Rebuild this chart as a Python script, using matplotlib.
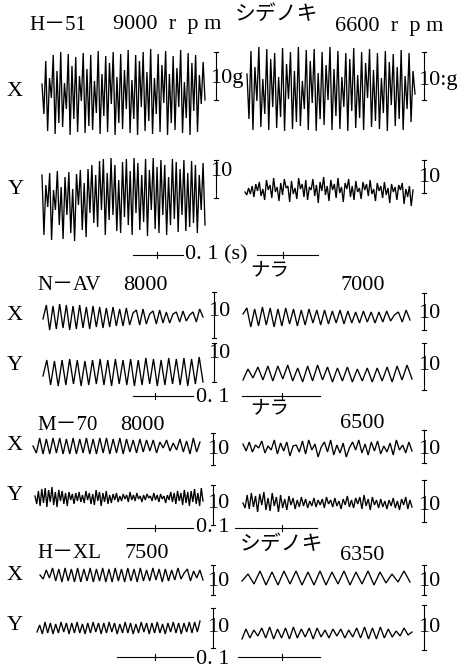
import matplotlib
matplotlib.use("Agg")
import matplotlib.pyplot as plt
import numpy as np

# wave amplitudes (pixels, + = up)
h51_x_left = [8,-22,31,-39,14,-6,37,-42,21,-31,40,-35,9,-17,38,-43,26,-27,35,-40,16,-9,39,-41,23,-34,37,-38,11,-21,41,-42,18,-24,36,-40,29,-12,40,-43,15,-31,38,-37,22,-17,42,-41,12,-27,37,-43,31,-15,40,-39,20,-29,43,-42,14,-22,38,-40,27,-11,41,-43,18,-31,36,-38,24,-15,42,-41,10,-26,39,-43,29,-19,37,-40,17,-12,30,-8]
h51_x_right = [15,-30,38,-41,22,-12,42,-38,10,-25,40,-41,30,-18,36,-39,12,-28,41,-42,25,-10,37,-40,18,-33,42,-37,8,-20,39,-41,28,-14,40,-42,16,-30,37,-36,24,-11,42,-41,20,-27,38,-40,12,-18,36,-42,30,-22,41,-39,14,-29,37,-41,26,-9,40,-38,19,-32,36,-40,11,-24,38,-42,27,-16,35,-37,22,-30,39,-41,13,-20,36,-33,18,-5]
h51_y_left = [20,-40,10,-12,22,-45,5,-15,24,-30,8,-44,18,-20,23,-38,6,-46,21,-10,25,-35,12,-42,26,-18,30,-28,20,-32,34,-15,36,-40,22,-25,37,-20,30,-36,15,-38,33,-22,36,-30,24,-40,37,-18,32,-35,20,-27,36,-41,25,-15,37,-34,28,-38,35,-20,30,-40,18,-30,36,-24,33,-37,26,-20,35,-36,22,-32,34,-28,30,-38,20,-15,32,-30]
h51_y_right = [0,-3,4,-2,6,-5,8,1,10,-4,3,-8,12,2,7,-6,14,0,5,-9,9,-3,13,4,6,-10,11,-2,4,-7,14,3,8,-5,12,-8,5,2,13,-4,7,-11,10,1,15,-3,6,-9,12,2,8,-6,14,-1,5,-10,9,3,13,-5,6,-8,11,0,4,-7,10,2,8,-4,12,-2,3,-9,9,1,6,-6,10,-3,4,-11,8,0,5,-8,7,2,9,-12,3,-5,6,-14,2]

nav_x_left = [-2,12,-13,11,-12,13,-11,12,-13,11,-12,12,-11,10,-12,11,-10,10,-11,9,-10,10,-9,8,-9,9,-8,4,7,-8,8,-7,3,6,-7,7,-6,5,-6,3,5,-5,6,-4,2,5,-5,8,0]
nav_x_right = [3,9,-10,8,-9,10,-8,9,-10,8,-9,9,-7,8,-9,7,-8,8,-6,7,-8,7,-7,6,-6,7,-7,6,-6,5,-6,6,-5,5,-6,5,-5,6,-4,2,5,-5,7,-3]
nav_y_left = [-4,12,-13,11,-14,12,-13,13,-12,12,-14,11,-13,12,-12,13,-13,12,-14,13,-12,12,-13,13,-14,12,-13,14,-12,13,-14,12,-13,14,-12,13,-13,14,-14,13,-12,15,-10]
nav_y_right = [-6,5,-4,7,-6,8,-7,8,-5,9,-7,6,-8,8,-7,9,-6,7,-8,6,-7,7,-8,5,-7,6,-8,6,-7,7,-8,8,-6,9,-5]

m70_x_left = [0,-7,8,-8,7,-8,8,-7,8,-8,7,-8,8,-8,7,-7,8,-8,7,-8,8,-7,8,-8,7,-7,8,-8,7,-6,6,-7,7,-6,6,-5,6,-7,4,-2,6,-5,3,-4,7,-6,5,-8,8,-6,4]
m70_x_right = [4,-3,6,-4,3,0,7,-5,2,-2,8,-6,5,-3,6,-8,2,3,-4,7,-6,8,-2,4,-9,1,6,-4,8,-7,3,-5,5,-9,0,6,-2,8,-5,4,-7,6,-3,7,-6,2,-4,5,-7,8,-2,3,-5,6,-3]
m70_y_left = [2,-6,7,-8,9,-5,10,-9,8,-4,11,-7,6,-9,8,-3,7,-6,5,-8,6,-2,4,-6,5,-3,6,-4,3,-5,7,-2,5,-6,4,-7,8,-3,6,-8,5,-4,7,-6,3,-5,4,-2,5,-4,2,-3,4,-1,3,-4,6,-2,3,-3,5,-1,2,-4,3,-2,4,0,2,-3,5,-2,3,-4,4,-1,2,-5,3,-2,6,-4,5,-6,7,-3,5,-7,8,-5,6,-8,7,-4,9,-6,5,-8,10,-3]
m70_y_right = [0,-5,8,-6,10,-4,7,-9,9,-2,11,-7,5,-8,10,-3,6,-9,8,-5,4,-7,7,-2,5,-6,3,-4,6,-3,4,-5,2,-3,5,-4,3,-2,4,-5,6,-1,3,-4,5,-3,2,-6,4,-2,7,-4,3,-5,5,-1,6,-6,8,-3,4,-7,6,-2,3,-5,4,-4,2,-6,3,-3,5,-5,2,-7,4,-2,6,-6,3,-4]

hxl_x_left = [0,-4,5,-3,7,-6,6,-7,7,-6,6,-7,7,-7,6,-6,7,-7,6,-6,7,-7,6,-7,7,-6,6,-7,7,-6,6,-7,7,-6,5,-6,7,-5,6,-7,6,-6,5,-5,7,-4,2,6,-6,4,-3,5,-5]
hxl_x_right = [-3,4,-6,7,-7,6,-7,7,-6,7,-7,6,-7,7,-7,6,-6,7,-7,6,-6,7,-7,6,-5,4,-4,7,-4]
hxl_y_left = [-4,3,-6,6,-5,5,-6,4,-5,6,-4,5,-6,5,-5,6,-5,4,-6,5,-5,6,-4,5,-6,5,-5,6,-4,5,-6,4,-5,6,-5,5,-6,4,-5,6,-4,5,-6,5,-5,6,-5,4,-6,5,-4,6,-5,5,-6,5,-4,6,-5,6,-4,7]
hxl_y_right = [-6,4,-5,3,-3,5,-5,6,-6,4,-5,5,-6,6,-5,4,-4,5,-6,5,-4,3,-5,4,-3,4,-5,3,-4,5,-5,6,-6,5,-6,6,-5,4,-4,2,-3,5,-2,1]

LAT = ['Liberation Serif', 'Noto Sans CJK JP']
JP = ['Noto Sans CJK JP', 'Liberation Serif']

fig = plt.figure(figsize=(4.57, 6.68), dpi=100)
ax = fig.add_axes([0, 0, 1, 1])
ax.set_xlim(0, 457)
ax.set_ylim(668, 0)
ax.axis('off')


def trace(vals, x0, x1, cy, lw=0.95):
    xs = np.linspace(x0, x1, len(vals))
    ax.plot(xs, cy - np.array(vals), color='black', lw=lw, solid_joinstyle='miter')


def scale(x, y0, y1, ty, label='10'):
    ax.plot([x, x], [y0, y1], color='black', lw=0.8)
    ax.plot([x - 2, x + 2], [y0, y0], color='black', lw=0.8)
    ax.plot([x - 2, x + 2], [y1, y1], color='black', lw=0.8)
    ax.text(x - 6, ty, label, family=LAT, fontsize=16, va='center', ha='left')


def timebar(xa, xb, ta, xc, xd, tb, y):
    for (p, q, t) in [(xa, xb, ta), (xc, xd, tb)]:
        ax.plot([p, q], [y, y], color='black', lw=0.8)
        ax.plot([t, t], [y - 3, y + 3], color='black', lw=0.8)


def txt(x, y, s, size=16, fam=LAT):
    ax.text(x, y, s, family=fam, fontsize=size, va='center', ha='left')


# H-51 / シデノキ
txt(29, 25, 'H－51', 15)
txt(113, 24, '9000  r  p m')
txt(235, 14, 'シデノキ', 15, JP)
txt(335, 27, '6600  r  p m')
txt(7, 92, 'X')
txt(8, 189, 'Y')
trace(h51_x_left, 42, 205, 92)
trace(h51_x_right, 247, 415, 89)
trace(h51_y_left, 42, 205, 195)
trace(h51_y_right, 245, 413, 192)
scale(216, 52, 100, 79, '10g')
scale(424, 52, 100, 80, '10:g')
scale(216, 160, 198, 172)
scale(424, 160, 193, 178)
timebar(133, 183, 157, 257, 318, 283, 255)
txt(185, 255, '0. 1 (s)')

# N-AV / ナラ
txt(250, 270, 'ナラ', 14, JP)
txt(37, 285, 'N－AV', 15)
txt(123, 285, '8000')
txt(340, 286, '7000')
txt(7, 316, 'X')
txt(7, 365, 'Y')
trace(nav_x_left, 43, 203, 317)
trace(nav_x_right, 243, 410, 317)
trace(nav_y_left, 43, 203, 372)
trace(nav_y_right, 243, 412, 374)
scale(214, 292, 338, 312)
scale(424, 293, 330, 314)
scale(214, 343, 382, 353)
scale(424, 343, 390, 366)
timebar(133, 193, 155, 242, 320, 282, 396)
txt(196, 397, '0. 1')

# M-70 / ナラ
txt(250, 408, 'ナラ', 14, JP)
txt(37, 425, 'M－70', 15)
txt(120, 425, '8000')
txt(340, 424, '6500')
txt(7, 446, 'X')
txt(7, 495, 'Y')
trace(m70_x_left, 33, 200, 446)
trace(m70_x_right, 243, 412, 448)
trace(m70_y_left, 35, 203, 498)
trace(m70_y_right, 243, 412, 503)
scale(213, 433, 465, 450)
scale(424, 430, 463, 450)
scale(213, 485, 525, 503)
scale(424, 480, 522, 505)
timebar(127, 193, 155, 235, 317, 282, 528)
txt(196, 528, '0. 1')

# H-XL / シデノキ
txt(240, 544, 'シデノキ', 15, JP)
txt(37, 553, 'H－XL', 15)
txt(125, 553, '7500')
txt(340, 555, '6350')
txt(7, 576, 'X')
txt(7, 626, 'Y')
trace(hxl_x_left, 40, 203, 575)
trace(hxl_x_right, 242, 410, 578)
trace(hxl_y_left, 37, 200, 628)
trace(hxl_y_right, 242, 412, 633)
scale(213, 565, 595, 582)
scale(424, 565, 595, 581)
scale(213, 608, 648, 628)
scale(424, 605, 650, 628)
timebar(117, 193, 155, 238, 320, 282, 657)
txt(196, 659, '0. 1')

fig.savefig('out.png', dpi=100, facecolor='white')
